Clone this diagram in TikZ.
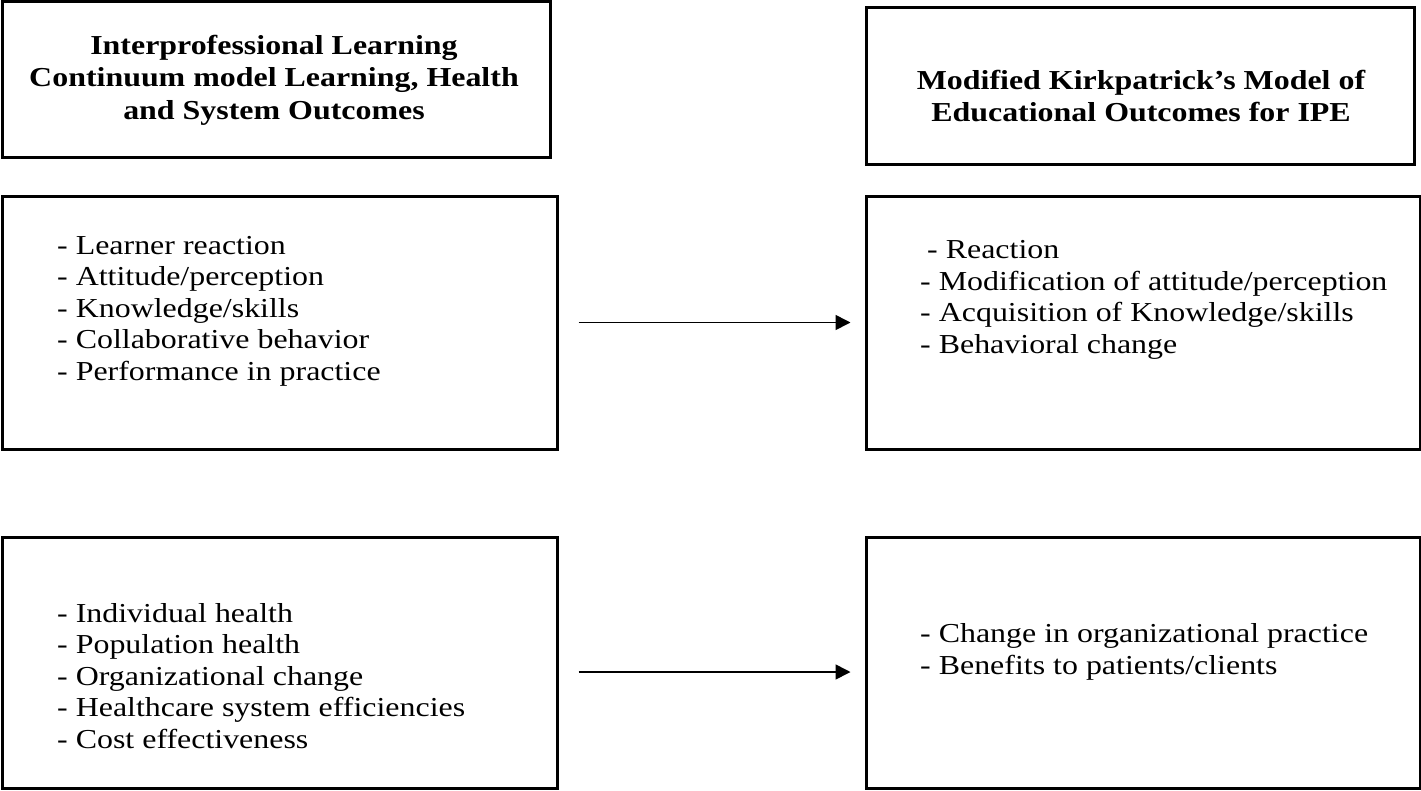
\documentclass[tikz,border=0pt]{standalone}
\usepackage{fontspec}
\setmainfont{Liberation Serif}[FakeStretch=1.165]
\usetikzlibrary{arrows.meta}
\begin{document}
\begin{tikzpicture}[x=1pt,y=-1pt,
  box/.style={draw=black, line width=3pt, inner sep=0pt},
  heading/.style={font=\fontsize{27.4}{32.5}\selectfont\bfseries, align=center, inner sep=0pt},
  listtext/.style={font=\fontsize{27.4}{31.5}\selectfont, align=left, anchor=west, inner sep=0pt},
  conn/.style={line width=1.6pt, -{Triangle[length=15pt,width=15pt]}}
]
\useasboundingbox (0,0) rectangle (1421,790);
% boxes
\node[box, minimum width=548pt, minimum height=156pt] (b1) at (276,79) {};
\node[box, minimum width=548pt, minimum height=156.5pt] (b2) at (1140,85.75) {};
\node[box, minimum width=555pt, minimum height=253pt] (b3) at (279.5,322.5) {};
\node[box, minimum width=554pt, minimum height=253pt] (b4) at (1143,322.5) {};
\node[box, minimum width=555pt, minimum height=251pt] (b5) at (279.5,662.5) {};
\node[box, minimum width=554pt, minimum height=251pt] (b6) at (1143,662.5) {};
% headings
\node[heading] (h1) at (274,80) {Interprofessional Learning\\Continuum model Learning, Health\\and System Outcomes};
\node[heading] (h2) at (1141,96) {Modified Kirkpatrick’s Model of\\Educational Outcomes for IPE};
% lists
\node[listtext] (t3) at (57,311) {- Learner reaction\\- Attitude/perception\\- Knowledge/skills\\- Collaborative behavior\\- Performance in practice};
\node[listtext] (t4) at (920,300) {\hspace{7pt}- Reaction\\- Modification of attitude/perception\\- Acquisition of Knowledge/skills\\- Behavioral change};
\node[listtext] (t5) at (57,676) {- Individual health\\- Population health\\- Organizational change\\- Healthcare system efficiencies\\- Cost effectiveness};
\node[listtext] (t6) at (920,652) {- Change in organizational practice\\- Benefits to patients/clients};
% connectors
\draw[conn, shorten <=20pt, shorten >=14pt] (b3.east) -- (b4.west);
\draw[conn, shorten <=20pt, shorten >=14pt] ([yshift=-9.5pt]b5.east) -- ([yshift=-9.5pt]b6.west);
\end{tikzpicture}
\end{document}
